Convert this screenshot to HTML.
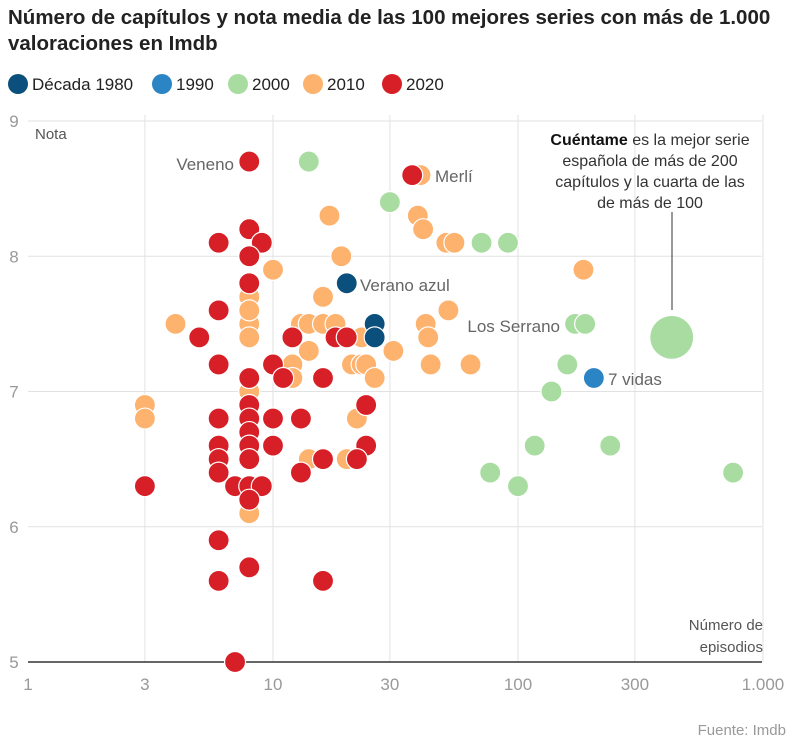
<!DOCTYPE html>
<html><head><meta charset="utf-8"><style>
body{margin:0;background:#fff;font-family:"Liberation Sans",sans-serif;}
svg text{font-family:"Liberation Sans",sans-serif;}
</style></head><body>
<svg id="chart" width="795" height="742" viewBox="0 0 795 742">
<text x="8" y="24" font-size="20.5" font-weight="bold" fill="#222">Número de capítulos y nota media de las 100 mejores series con más de 1.000</text>
<text x="8" y="50" font-size="20.5" font-weight="bold" fill="#222">valoraciones en Imdb</text>
<g id="legend"></g>
<g id="grid"></g>
<g id="points"></g>
<g id="ann"></g>
<text x="786" y="735" font-size="15" fill="#999" text-anchor="end">Fuente: Imdb</text>
</svg>
<script>
const decades = ["Década 1980","1990","2000","2010","2020"];
const decadeColors = ["#0b4f7c","#2b84c4","#a8dca0","#fdb26e","#d61f26"];
const xTicks = [1,3,10,30,100,300,1000];
const xTickLabels = ["1","3","10","30","100","300","1.000"];
const yTicks = [5,6,7,8,9];
// green 2000
const g_ep = [14,30,71,91,171,188,159,137,117,238,77,100,755];
const g_nota = [8.7,8.4,8.1,8.1,7.5,7.5,7.2,7.0,6.6,6.6,6.4,6.3,6.4];
// orange 2010
const o_ep = [40,17,39,41,51,55,19,10,185,8,16,52,4,8,13,14,16,18,42,8,8,43,23,14,31,12,21,23,24,44,64,12,26,8,3,3,22,14,20,8];
const o_nota = [8.6,8.3,8.3,8.2,8.1,8.1,8.0,7.9,7.9,7.7,7.7,7.6,7.5,7.5,7.5,7.5,7.5,7.5,7.5,7.6,7.4,7.4,7.4,7.3,7.3,7.2,7.2,7.2,7.2,7.2,7.2,7.1,7.1,7.0,6.9,6.8,6.8,6.5,6.5,6.1];
// red 2020
const r_ep = [8,6,8,9,8,8,6,5,6,10,8,11,12,16,18,20,8,8,6,10,13,24,8,8,6,10,24,6,8,16,22,6,13,3,7,8,9,8,6,8,6,16,7,37];
const r_nota = [8.7,8.1,8.2,8.1,8.0,7.8,7.6,7.4,7.2,7.2,7.1,7.1,7.4,7.1,7.4,7.4,6.9,6.8,6.8,6.8,6.8,6.9,6.7,6.6,6.6,6.6,6.6,6.5,6.5,6.5,6.5,6.4,6.4,6.3,6.3,6.3,6.3,6.2,5.9,5.7,5.6,5.6,5.0,8.6];
// 1980
const d80_ep = [20,26,26];
const d80_nota = [7.8,7.5,7.4];
// 1990
const d90_ep = [204];
const d90_nota = [7.1];
// highlighted (Cuéntame)
const big_ep = [424];
const big_nota = [7.4];

const NS="http://www.w3.org/2000/svg";
function X(v){return 28+245*Math.log10(v);}
function Y(v){return 121+(9-v)*135.25;}
function el(tag,attrs,parent,txt){const e=document.createElementNS(NS,tag);for(const k in attrs)e.setAttribute(k,attrs[k]);if(txt!==undefined)e.textContent=txt;parent.appendChild(e);return e;}

const grid=document.getElementById('grid');
xTicks.forEach((t,i)=>{
  if(i>0){const l=el('line',{x1:X(t),x2:X(t),y1:115,y2:662,stroke:'#e2e2e2','stroke-width':1},grid);
  
  }
  const tx=el('text',{x:X(t),y:690,'font-size':17,fill:'#999','text-anchor':'middle'},grid,xTickLabels[i]);
  
  
});
yTicks.forEach(t=>{
  const l=el('line',{x1:28,x2:762,y1:Y(t),y2:Y(t),stroke:t===5?'#333':'#e2e2e2','stroke-width':t===5?1.5:1},grid);
  
  
  const tx=el('text',{x:14,y:Y(t)+6,'font-size':17,fill:'#999','text-anchor':'middle'},grid,String(t));
  
  
});
const yt=el('text',{x:35,y:139,'font-size':15,fill:'#555'},grid,'Nota');


const xt1=el('text',{x:763,y:630,'font-size':15,fill:'#555','text-anchor':'end'},grid,'Número de');


const xt2=el('text',{x:763,y:652,'font-size':15,fill:'#555','text-anchor':'end'},grid,'episodios');



const lg=document.getElementById('legend');
const lx=[8,152,228,303,382];
decades.forEach((d,i)=>{
  const c=el('circle',{cx:lx[i]+10,cy:84,r:10,fill:decadeColors[i]},lg);
  
  
  const t=el('text',{x:lx[i]+24,y:90,'font-size':17,fill:'#222'},lg,d);
  
  
});

const pts=document.getElementById('points');
function series(ep,nota,color,name,r){
  ep.forEach((e,i)=>{
    const c=el('circle',{cx:X(e),cy:Y(nota[i]),r:r,fill:color,stroke:'#fff','stroke-width':1.2},pts);
    
    
  });
}
series(g_ep,g_nota,decadeColors[2],'point-2000',10.5);
series(big_ep,big_nota,decadeColors[2],'point-cuentame',22);
series(o_ep,o_nota,decadeColors[3],'point-2010',10.5);
series(r_ep,r_nota,decadeColors[4],'point-2020',10.5);
series(d80_ep,d80_nota,decadeColors[0],'point-1980',10.5);
series(d90_ep,d90_nota,decadeColors[1],'point-1990',10.5);

const ann=document.getElementById('ann');
function lab(x,y,t,anchor,name){const e=el('text',{x:x,y:y,'font-size':17,fill:'#666','text-anchor':anchor||'start'},ann,t);

}
lab(234,170,'Veneno','end','label-veneno');
lab(435,182,'Merlí','start','label-merli');
lab(360,291,'Verano azul','start','label-verano-azul');
lab(560,332,'Los Serrano','end','label-los-serrano');
lab(608,385,'7 vidas','start','label-7-vidas');
const ln=el('line',{x1:672,x2:672,y1:212,y2:310,stroke:'#333','stroke-width':1},ann);


const lines=[["Cuéntame"," es la mejor serie"],["","española de más de 200"],["","capítulos y la cuarta de las"],["","de más de 100"]];
lines.forEach((l,i)=>{
  const t=el('text',{x:650,y:145+i*21,'font-size':16,fill:'#333','text-anchor':'middle'},ann);
  
  
  if(l[0]){el('tspan',{'font-weight':'bold',fill:'#111'},t,l[0]);}
  el('tspan',{},t,l[1]);
});
</script>
</body></html>
